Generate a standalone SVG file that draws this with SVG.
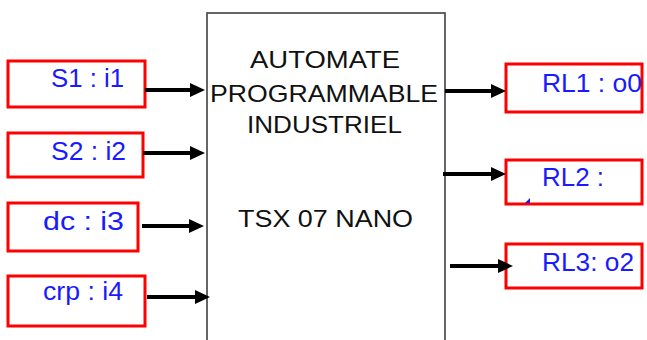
<svg xmlns="http://www.w3.org/2000/svg" width="647" height="340" viewBox="0 0 647 340">
<style>
.io{fill:#fff;stroke:#ff0000;stroke-width:3}
.lbl{font-family:"Liberation Sans",Arial,sans-serif;font-size:25px;fill:#1a1aff}
.main{fill:#fff;stroke:#404040;stroke-width:1.6}
.mt{font-family:"Liberation Sans",Arial,sans-serif;font-size:24px;fill:#111}
.arr{stroke:#000;stroke-width:4;fill:none;marker-end:url(#ah)}
</style>
<defs>
<marker id="ah" markerUnits="userSpaceOnUse" markerWidth="16" markerHeight="16" viewBox="0 0 16 16" refX="0" refY="7.5" orient="auto">
<path d="M0,0.5 L15,7.5 L0,14.5 z" fill="#000"/>
</marker>
</defs>
<rect width="647" height="340" fill="#fff"/>
<g id="plc">
<rect class="main" x="207" y="13" width="238" height="340"/>
<text class="mt" x="250" y="68" textLength="150" lengthAdjust="spacingAndGlyphs">AUTOMATE</text>
<text class="mt" x="210" y="102" textLength="228" lengthAdjust="spacingAndGlyphs">PROGRAMMABLE</text>
<text class="mt" x="247" y="133" textLength="155" lengthAdjust="spacingAndGlyphs">INDUSTRIEL</text>
<text class="mt" x="238" y="227" font-size="25" textLength="175" lengthAdjust="spacingAndGlyphs">TSX 07 NANO</text>
</g>
<g id="s1"><rect class="io" x="8" y="61" width="137" height="46"/><text class="lbl" x="51" y="87" textLength="73" lengthAdjust="spacingAndGlyphs">S1 : i1</text></g>
<g id="s2"><rect class="io" x="8" y="133" width="135" height="44"/><text class="lbl" x="51" y="160" textLength="75" lengthAdjust="spacingAndGlyphs">S2 : i2</text></g>
<g id="dc"><rect class="io" x="8" y="203" width="130" height="48"/><text class="lbl" x="43" y="230" textLength="81" lengthAdjust="spacingAndGlyphs">dc : i3</text></g>
<g id="crp"><rect class="io" x="8" y="276" width="137" height="50"/><text class="lbl" x="43" y="300" textLength="80" lengthAdjust="spacingAndGlyphs">crp : i4</text></g>
<g id="rl1"><rect class="io" x="506" y="64" width="136" height="48"/><text class="lbl" x="542" y="92" textLength="100" lengthAdjust="spacingAndGlyphs">RL1 : o0</text></g>
<g id="rl2"><rect class="io" x="506" y="160" width="136" height="44"/><text class="lbl" x="542" y="186" textLength="62" lengthAdjust="spacingAndGlyphs">RL2 :</text><path d="M525,203 L530,198 L530,203 z" fill="#1a1aff"/></g>
<g id="rl3"><rect class="io" x="506" y="244" width="136" height="44"/><text class="lbl" x="542" y="271" textLength="92" lengthAdjust="spacingAndGlyphs">RL3: o2</text></g>
<g id="connectors">
<line class="arr" x1="145" y1="90" x2="190" y2="90"/>
<line class="arr" x1="143" y1="153" x2="190" y2="153"/>
<line class="arr" x1="142" y1="226" x2="189" y2="226"/>
<line class="arr" x1="147" y1="297" x2="195" y2="297"/>
<line class="arr" x1="445" y1="91" x2="491" y2="91"/>
<line class="arr" x1="443" y1="174" x2="491" y2="174"/>
<line class="arr" x1="450" y1="266" x2="498" y2="266"/>
</g>
</svg>
